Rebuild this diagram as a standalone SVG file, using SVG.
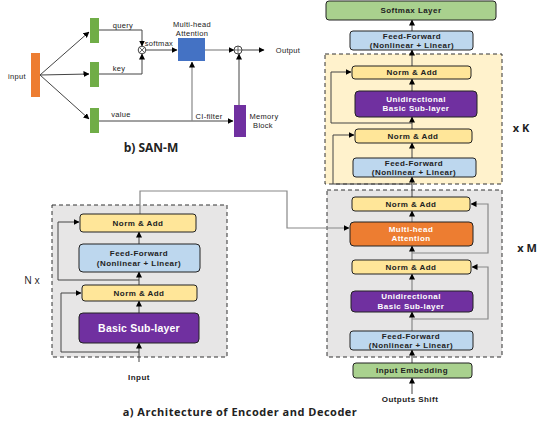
<svg xmlns="http://www.w3.org/2000/svg" width="539" height="423" viewBox="0 0 539 423">
<defs>
<marker id="ah" markerWidth="6" markerHeight="6" refX="5.5" refY="3" orient="auto" markerUnits="userSpaceOnUse">
<path d="M0,0 L6,3 L0,6 Z" fill="#000"/>
</marker>
<style>
.t{font-family:"Liberation Sans",Arial,sans-serif;text-anchor:middle;dominant-baseline:central}
.b{font-weight:700;font-size:8px;letter-spacing:0.45px;fill:#222}
.w{fill:#fff}
.r{font-size:7.5px;letter-spacing:0.3px;fill:#222}
.box{stroke:#222;stroke-width:1}
.na{fill:#ffe699}
.ff{fill:#bdd7ee}
.pu{fill:#7030a0}
.c{fill:none;stroke:#444;stroke-width:1}
.g{fill:none;stroke:#888;stroke-width:1.2}
.rg{stroke:#333;stroke-width:1;stroke-dasharray:4,3}
</style>
</defs>
<rect width="539" height="423" fill="#fff"/>

<!-- regions -->
<rect id="enc-region" x="52" y="205" width="175" height="152" fill="#e7e6e6" class="rg"/>
<rect id="dec-region-m" x="327" y="190" width="175" height="167" fill="#e7e6e6" class="rg"/>
<rect id="dec-region-k" x="325" y="54" width="177" height="130" fill="#fff2cc" class="rg"/>

<!-- connectors -->
<g id="connectors">
<!-- SAN-M -->
<line class="c" x1="40" y1="75" x2="89" y2="32" marker-end="url(#ah)"/>
<line class="c" x1="40" y1="75" x2="89" y2="74" marker-end="url(#ah)"/>
<line class="c" x1="40" y1="75" x2="89" y2="119" marker-end="url(#ah)"/>
<path class="c" d="M99,30 H142 V46" marker-end="url(#ah)"/>
<path class="c" d="M99,74 H142 V54" marker-end="url(#ah)"/>
<line class="c" x1="146" y1="50" x2="177" y2="50" marker-end="url(#ah)"/>
<line class="g" x1="205" y1="50" x2="234" y2="50" marker-end="url(#ah)"/>
<line class="c" x1="242" y1="50" x2="264" y2="50" marker-end="url(#ah)"/>
<path class="c" d="M99,121 H233" marker-end="url(#ah)"/>
<line class="g" x1="192" y1="121" x2="192" y2="62" marker-end="url(#ah)"/>
<line class="c" x1="239" y1="105" x2="239" y2="54" marker-end="url(#ah)"/>
<!-- encoder -->
<line class="c" x1="139" y1="362" x2="139" y2="343" marker-end="url(#ah)"/>
<line class="c" x1="139" y1="313" x2="139" y2="301" marker-end="url(#ah)"/>
<line class="c" x1="139" y1="285" x2="139" y2="272" marker-end="url(#ah)"/>
<line class="c" x1="139" y1="244" x2="139" y2="232" marker-end="url(#ah)"/>
<path class="c" d="M139,352 H61 V293 H81" marker-end="url(#ah)"/>
<path class="c" d="M139,280 H58 V222 H79" marker-end="url(#ah)"/>
<path class="g" d="M140,214 V191 H287 V228 H349" marker-end="url(#ah)"/>
<!-- decoder -->
<line class="c" x1="412" y1="394" x2="412" y2="378" marker-end="url(#ah)"/>
<line class="c" x1="412" y1="363" x2="412" y2="350" marker-end="url(#ah)"/>
<line class="g" x1="412" y1="331" x2="412" y2="312" marker-end="url(#ah)"/>
<line class="g" x1="412" y1="291" x2="412" y2="274" marker-end="url(#ah)"/>
<line class="g" x1="412" y1="260" x2="412" y2="246" marker-end="url(#ah)"/>
<line class="g" x1="412" y1="222" x2="412" y2="211" marker-end="url(#ah)"/>
<path class="g" d="M412,319 H488 V267 H472" marker-end="url(#ah)"/>
<path class="g" d="M412,253 H488 V204 H471" marker-end="url(#ah)"/>
<line class="c" x1="412" y1="197" x2="412" y2="177" marker-end="url(#ah)"/>
<line class="c" x1="412" y1="158" x2="412" y2="143" marker-end="url(#ah)"/>
<line class="c" x1="412" y1="129" x2="412" y2="117" marker-end="url(#ah)"/>
<line class="c" x1="412" y1="91" x2="412" y2="79" marker-end="url(#ah)"/>
<line class="c" x1="412" y1="66" x2="412" y2="50" marker-end="url(#ah)"/>
<line class="c" x1="412" y1="31" x2="412" y2="20" marker-end="url(#ah)"/>
<path class="c" d="M412,184 H333 V135 H354" marker-end="url(#ah)"/>
<path class="c" d="M412,123 H331 V72 H351" marker-end="url(#ah)"/>
</g>

<!-- SAN-M nodes -->
<g id="san-input"><rect x="31" y="53" width="9" height="44" fill="#ed7d31"/><text class="t r" x="17" y="76">input</text></g>
<g id="san-query"><rect x="90" y="18" width="9" height="25" fill="#70ad47"/><text class="t r" x="123" y="25">query</text></g>
<g id="san-key"><rect x="90" y="62" width="9" height="25" fill="#70ad47"/><text class="t r" x="119" y="68">key</text></g>
<g id="san-value"><rect x="90" y="108" width="9" height="25" fill="#70ad47"/><text class="t r" x="121" y="114">value</text></g>
<g id="san-mult"><circle cx="142" cy="50" r="3.8" fill="#fff" stroke="#444"/><path d="M139.3,47.3 L144.7,52.7 M144.7,47.3 L139.3,52.7" stroke="#444" stroke-width="0.8"/><text class="t r" x="159" y="43">softmax</text></g>
<g id="san-mha"><rect x="178" y="38" width="27" height="23" fill="#4472c4"/><text class="t r" x="192" y="24.5">Multi-head</text><text class="t r" x="192" y="33">Attention</text></g>
<g id="san-plus"><circle cx="238" cy="50" r="4" fill="#fff" stroke="#444"/><path d="M234,50 H242 M238,46 V54" stroke="#444" stroke-width="0.8"/></g>
<g id="san-output"><text class="t r" x="288" y="50">Output</text></g>
<g id="san-cifilter"><text class="t r" x="209" y="116">CI-filter</text></g>
<g id="san-memory"><rect x="234" y="105" width="12" height="32" fill="#7030a0"/><text class="t r" x="264" y="116.5">Memory</text><text class="t r" x="263" y="125.5">Block</text></g>
<text class="t" x="151" y="147" style="font-family:'Open Sans','Liberation Sans',sans-serif;font-weight:700;font-size:12px;fill:#222">b) SAN-M</text>

<!-- Encoder -->
<g id="enc-norm2"><rect class="box na" x="80" y="214" width="116" height="18" rx="3"/><text class="t b" x="138" y="223">Norm &amp; Add</text></g>
<g id="enc-ff"><rect class="box ff" x="79" y="244" width="121" height="28" rx="4"/><text class="t b" x="139" y="253">Feed-Forward</text><text class="t b" x="139" y="263">(Nonlinear + Linear)</text></g>
<g id="enc-norm1"><rect class="box na" x="82" y="285" width="115" height="16" rx="3"/><text class="t b" x="139" y="293">Norm &amp; Add</text></g>
<g id="enc-basic"><rect class="box pu" x="79" y="313" width="120" height="30" rx="4"/><text class="t b w" x="139" y="328" style="font-size:10.5px;letter-spacing:0.2px">Basic Sub-layer</text></g>
<g id="enc-input"><text class="t b" x="139" y="377">Input</text></g>
<g id="enc-nx"><text class="t" x="32" y="280" style="font-family:'Open Sans','Liberation Sans',sans-serif;font-size:10px;fill:#222">N x</text></g>

<!-- Decoder -->
<g id="dec-softmax"><rect class="box" x="326" y="1" width="170" height="19" rx="3" fill="#a9d18e"/><text class="t b" x="411" y="10.5">Softmax Layer</text></g>
<g id="dec-ff-top"><rect class="box ff" x="350" y="31" width="123" height="19" rx="3"/><text class="t b" x="412" y="36">Feed-Forward</text><text class="t b" x="412" y="45">(Nonlinear + Linear)</text></g>
<g id="dec-k-norm2"><rect class="box na" x="352" y="66" width="119" height="13" rx="3"/><text class="t b" x="412" y="72.5">Norm &amp; Add</text></g>
<g id="dec-k-uni"><rect class="box pu" x="355" y="91" width="122" height="26" rx="4"/><text class="t b w" x="416" y="99">Unidirectional</text><text class="t b w" x="416" y="108.5">Basic Sub-layer</text></g>
<g id="dec-k-norm1"><rect class="box na" x="355" y="129" width="117" height="14" rx="3"/><text class="t b" x="413" y="136">Norm &amp; Add</text></g>
<g id="dec-k-ff"><rect class="box ff" x="353" y="158" width="123" height="19" rx="3"/><text class="t b" x="414" y="163">Feed-Forward</text><text class="t b" x="414" y="172">(Nonlinear + Linear)</text></g>
<g id="dec-xk"><text class="t" x="521" y="127" style="font-family:'Open Sans','Liberation Sans',sans-serif;font-weight:700;font-size:11px;fill:#222">x K</text></g>

<g id="dec-m-norm2"><rect class="box na" x="352" y="197" width="118" height="14" rx="3"/><text class="t b" x="411" y="204">Norm &amp; Add</text></g>
<g id="dec-m-mha"><rect class="box" x="350" y="222" width="123" height="24" rx="4" fill="#ed7d31"/><text class="t b w" x="411" y="229.5">Multi-head</text><text class="t b w" x="411" y="238.5">Attention</text></g>
<g id="dec-m-norm1"><rect class="box na" x="352" y="260" width="119" height="14" rx="3"/><text class="t b" x="411" y="267">Norm &amp; Add</text></g>
<g id="dec-m-uni"><rect class="box pu" x="351" y="291" width="122" height="21" rx="4"/><text class="t b w" x="411" y="296.5">Unidirectional</text><text class="t b w" x="411" y="306">Basic Sub-layer</text></g>
<g id="dec-m-ff"><rect class="box ff" x="350" y="331" width="123" height="19" rx="3"/><text class="t b" x="411" y="336">Feed-Forward</text><text class="t b" x="411" y="345">(Nonlinear + Linear)</text></g>
<g id="dec-embed"><rect class="box" x="353" y="363" width="119" height="15" rx="3" fill="#a9d18e"/><text class="t b" x="412" y="370.5">Input Embedding</text></g>
<g id="dec-shift"><text class="t b" x="410" y="399">Outputs Shift</text></g>
<g id="dec-xm"><text class="t" x="527" y="247" style="font-family:'Open Sans','Liberation Sans',sans-serif;font-weight:700;font-size:11px;fill:#222">x M</text></g>

<text class="t" x="240" y="411" style="font-family:'Open Sans','Liberation Sans',sans-serif;font-weight:700;font-size:11px;letter-spacing:0.5px;fill:#222">a) Architecture of Encoder and Decoder</text>
</svg>
